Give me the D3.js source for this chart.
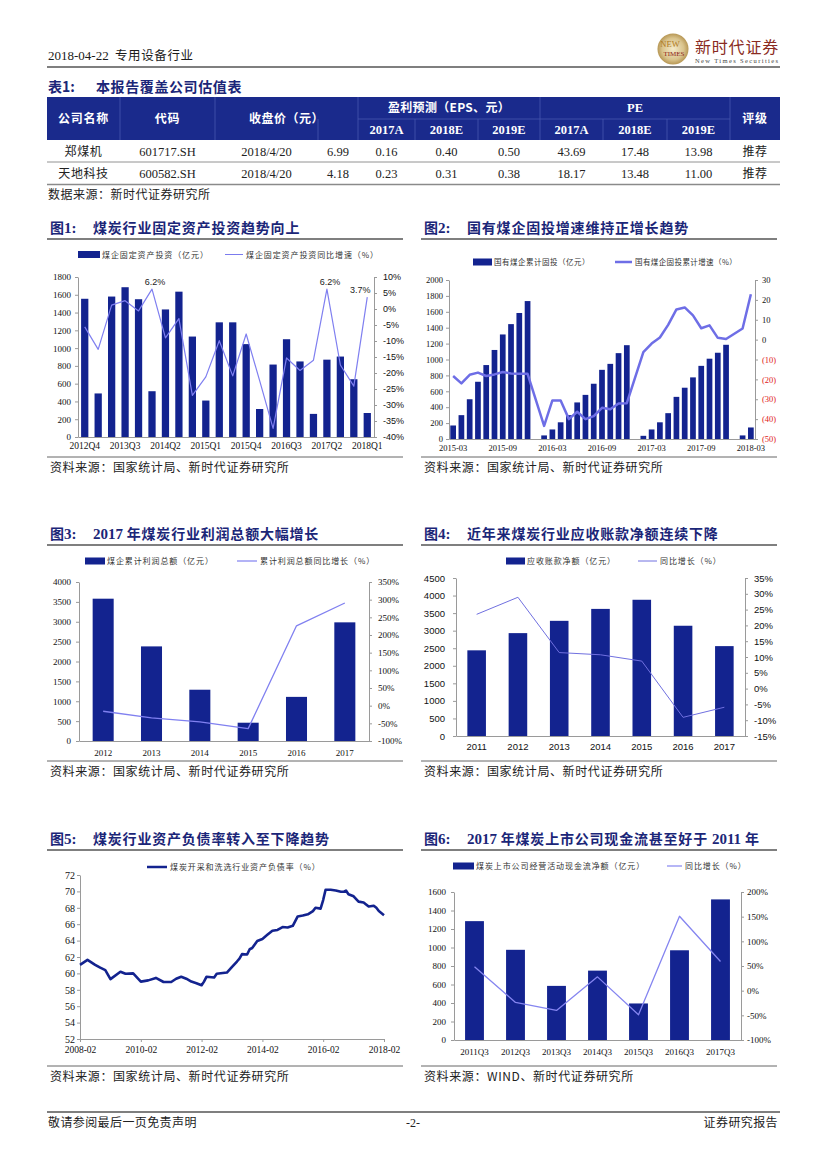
<!DOCTYPE html>
<html><head><meta charset="utf-8">
<script src="https://cdn.jsdelivr.net/npm/d3@7"></script>
<style>body{margin:0;background:#fff}svg{display:block}</style>
</head><body>
<script>
// ---------------- DATA ----------------
// Table 1
const tblCompanies = ["郑煤机", "天地科技"];
const tblCodes = ["601717.SH", "600582.SH"];
const tblDates = ["2018/4/20", "2018/4/20"];
const tblPrices = ["6.99", "4.18"];
const tblEps2017A = ["0.16", "0.23"];
const tblEps2018E = ["0.40", "0.31"];
const tblEps2019E = ["0.50", "0.38"];
const tblPe2017A = ["43.69", "18.17"];
const tblPe2018E = ["17.48", "13.48"];
const tblPe2019E = ["13.98", "11.00"];
const tblRatings = ["推荐", "推荐"];
const tblYearHeads = ["2017A", "2018E", "2019E", "2017A", "2018E", "2019E"];

// Fig 1
const fig1Quarters = ["2012Q4","2013Q1","2013Q2","2013Q3","2013Q4","2014Q1","2014Q2","2014Q3","2014Q4","2015Q1","2015Q2","2015Q3","2015Q4","2016Q1","2016Q2","2016Q3","2016Q4","2017Q1","2017Q2","2017Q3","2017Q4","2018Q1"];
const fig1Invest = [1555,490,1580,1685,1550,515,1435,1635,1130,410,1290,1290,1045,315,815,1100,850,260,870,905,650,270];
const fig1Growth = [-5.6,-12.6,1.2,2.6,-0.6,6.2,-9.0,-3.0,-27.0,-21.2,-9.9,-20.9,-7.8,-22.4,-37.3,-15.3,-19.2,-16.0,6.2,-17.5,-24.1,3.7];
const fig1XTicks = ["2012Q4","2013Q3","2014Q2","2015Q1","2015Q4","2016Q3","2017Q2","2018Q1"];
const fig1LeftTicks = [0,200,400,600,800,1000,1200,1400,1600,1800];
const fig1RightTicks = [-40,-35,-30,-25,-20,-15,-10,-5,0,5,10];
const fig1Labelled = ["2014Q1", "2017Q2", "2018Q1"];

// Fig 2
const fig2Months = ["2015-03","2015-04","2015-05","2015-06","2015-07","2015-08","2015-09","2015-10","2015-11","2015-12",
 "2016-01","2016-02","2016-03","2016-04","2016-05","2016-06","2016-07","2016-08","2016-09","2016-10","2016-11","2016-12",
 "2017-01","2017-02","2017-03","2017-04","2017-05","2017-06","2017-07","2017-08","2017-09","2017-10","2017-11","2017-12",
 "2018-01","2018-02","2018-03"];
const fig2Cum = [170,300,500,720,930,1120,1315,1445,1585,1735,
 null,45,120,210,300,460,555,695,870,945,1080,1180,
 null,40,120,210,325,530,645,775,920,1010,1085,1185,
 null,45,145];
const fig2Growth = [-18.3,-22.0,-17.7,-16.6,-18.3,-17.5,-16.3,-17.0,-17.2,-17.2,
 null,-43.4,-30.6,-30.6,-40.0,-36.3,-40.0,-38.5,-34.3,-35.0,-32.1,-32.0,
 null,-6.3,-2.0,1.1,7.4,15.2,16.2,12.2,5.7,7.2,0.9,0.3,
 null,5.6,22.8];
const fig2XTicks = ["2015-03","2015-09","2016-03","2016-09","2017-03","2017-09","2018-03"];
const fig2LeftTicks = [0,200,400,600,800,1000,1200,1400,1600,1800,2000];
const fig2RightTicks = [-50,-40,-30,-20,-10,0,10,20,30];

// Fig 3
const fig3Years = ["2012","2013","2014","2015","2016","2017"];
const fig3Profit = [3580,2380,1290,460,1110,2985];
const fig3Growth = [-15.8,-34.7,-46.0,-65.0,226.0,290.5];
const fig3LeftTicks = [0,500,1000,1500,2000,2500,3000,3500,4000];
const fig3RightTicks = [-100,-50,0,50,100,150,200,250,300,350];

// Fig 4
const fig4Years = ["2011","2012","2013","2014","2015","2016","2017"];
const fig4Receivable = [2440,2930,3280,3620,3880,3140,2560];
const fig4Growth = [23.5,28.9,11.4,10.7,8.7,-9.1,-5.9];
const fig4LeftTicks = [0,500,1000,1500,2000,2500,3000,3500,4000,4500];
const fig4RightTicks = [-15,-10,-5,0,5,10,15,20,25,30,35];

// Fig 5
const fig5Dates = ["2008-02","2008-05","2008-08","2008-10","2008-12","2009-02","2009-06","2009-08","2009-11",
 "2010-02","2010-05","2010-08","2010-11","2011-02","2011-04","2011-06","2011-08","2011-10","2011-12",
 "2012-02","2012-03","2012-04","2012-07","2012-08","2012-12","2013-02","2013-04","2013-05","2013-06","2013-08","2013-09","2013-10","2013-12",
 "2014-02","2014-04","2014-06","2014-08","2014-10","2014-12","2015-02","2015-04","2015-06","2015-08","2015-10","2015-11",
 "2016-01","2016-02","2016-03","2016-05","2016-07","2016-09","2016-10","2016-11","2016-12",
 "2017-02","2017-04","2017-06","2017-07","2017-08","2017-10","2017-11","2017-12","2018-02"];
const fig5Ratio = [61.05,61.65,61.05,60.7,60.4,59.3,60.2,59.95,60.0,
 59.0,59.15,59.45,58.95,58.95,59.35,59.6,59.35,59.0,58.8,
 58.55,59.0,59.6,59.5,59.95,60.1,60.8,61.45,61.8,62.35,62.3,62.95,63.1,63.95,
 64.2,64.7,65.2,65.3,65.65,65.6,65.8,66.95,67.05,67.2,67.6,68.0,
 67.9,68.95,70.2,70.2,70.1,69.95,69.95,70.1,69.65,
 69.4,68.75,68.65,68.4,68.15,68.25,68.0,67.6,67.1];
const fig5XTicks = ["2008-02","2010-02","2012-02","2014-02","2016-02","2018-02"];
const fig5YTicks = [52,54,56,58,60,62,64,66,68,70,72];

// Fig 6
const fig6Quarters = ["2011Q3","2012Q3","2013Q3","2014Q3","2015Q3","2016Q3","2017Q3"];
const fig6Cash = [1285,975,585,750,395,970,1520];
const fig6Growth = [48.3,-23.9,-40.0,28.0,-48.8,150.8,59.0];
const fig6LeftTicks = [0,200,400,600,800,1000,1200,1400,1600];
const fig6RightTicks = [-100,-50,0,50,100,150,200];

// ---------------- STYLE ----------------
const W = 827, H = 1169;
const SERIF = "'Liberation Serif','DejaVu Serif',serif";
const SANS = "'Liberation Sans','DejaVu Sans',sans-serif";
const CJK = "'Noto Sans CJK SC','Noto Sans',sans-serif";
const NAVY = "#13238F";
const TITLE = "#1B2678";
const AXIS = "#9a9a9a";

const svg = d3.select("body").append("svg").attr("width", W).attr("height", H);
svg.append("rect").attr("width", W).attr("height", H).attr("fill", "#fff");
const defs = svg.append("defs");

function txt(x, y, s, font, size, opts = {}) {
  const t = svg.append("text").attr("x", x).attr("y", y).text(s)
    .style("font-family", font).style("font-size", size + "px")
    .attr("fill", opts.fill || "#1a1a1a");
  if (opts.anchor) t.attr("text-anchor", opts.anchor);
  if (opts.weight) t.style("font-weight", opts.weight);
  if (opts.ls) t.style("letter-spacing", opts.ls + "px");
  return t;
}
function hline(x1, x2, y, color, w) {
  svg.append("line").attr("x1", x1).attr("x2", x2).attr("y1", y).attr("y2", y)
    .attr("stroke", color).attr("stroke-width", w);
}

// ---------------- PAGE HEADER ----------------
txt(48, 60, "2018-04-22", SERIF, 13);
txt(115, 60, "专用设备行业", CJK, 12.5, {ls: 0.6});
hline(47, 780, 67, "#555", 1.4);

const lg = defs.append("radialGradient").attr("id", "logoG");
lg.append("stop").attr("offset", "0%").attr("stop-color", "#F4EBCB");
lg.append("stop").attr("offset", "70%").attr("stop-color", "#D9C38C");
lg.append("stop").attr("offset", "100%").attr("stop-color", "#B79755");
svg.append("circle").attr("cx", 673).attr("cy", 49).attr("r", 15.5).attr("fill", "url(#logoG)");
txt(670, 47, "NEW", SERIF, 8.5, {anchor: "middle", fill: "#B07A1E"});
txt(674, 56, "TIMES", SERIF, 7, {anchor: "middle", fill: "#8E2418"});
txt(695, 53, "新时代证券", CJK, 16, {fill: "#8A2B22", ls: 0.8});
txt(695, 63, "New Times Securities", SERIF, 6.5, {fill: "#444"}).attr("textLength", 83);

// ---------------- TABLE ----------------
txt(48, 92, "表1:", CJK, 14, {weight: 700, fill: TITLE});
txt(96, 92, "本报告覆盖公司估值表", CJK, 14, {weight: 700, fill: TITLE, ls: 0.6});

const colB = [47, 120, 215, 318, 358, 415, 478, 540, 603, 667, 730, 780];
const cx = i => (colB[i] + colB[i + 1]) / 2;
const TH0 = 97, THm = 119, TH1 = 140, R1 = 162, R2 = 184.5;
svg.append("rect").attr("x", 47).attr("y", TH0).attr("width", 733).attr("height", TH1 - TH0).attr("fill", "#1A2A8C");
const sepC = "#4656AE";
[120, 215, 358, 540, 730].forEach(x => svg.append("line").attr("x1", x).attr("x2", x).attr("y1", TH0).attr("y2", TH1).attr("stroke", sepC).attr("stroke-width", 0.8));
[318, 415, 478, 603, 667].forEach(x => svg.append("line").attr("x1", x).attr("x2", x).attr("y1", THm).attr("y2", TH1).attr("stroke", sepC).attr("stroke-width", 0.8));
hline(358, 730, THm, sepC, 0.8);
const hs = {fill: "#fff", anchor: "middle", weight: 700};
txt(cx(0), 123, "公司名称", CJK, 12, {...hs, ls: 0.8});
txt(cx(1), 123, "代码", CJK, 12, {...hs, ls: 0.8});
txt((colB[2] + colB[4]) / 2, 123, "收盘价（元）", CJK, 12, {...hs, ls: 0.5});
txt((colB[4] + colB[7]) / 2, 112, "盈利预测（EPS、元）", CJK, 12, {...hs, ls: 0.3});
txt((colB[7] + colB[10]) / 2, 112, "PE", SERIF, 12.5, hs);
txt(cx(10), 123, "评级", CJK, 12, {...hs, ls: 0.8});
tblYearHeads.forEach((h, k) => txt(cx(4 + k), 134, h, SERIF, 12.5, hs));

const rowCols = [tblCompanies, tblCodes, tblDates, tblPrices, tblEps2017A, tblEps2018E, tblEps2019E, tblPe2017A, tblPe2018E, tblPe2019E, tblRatings];
const rowY = [156, 178];
tblCompanies.forEach((_, r) => {
  rowCols.forEach((col, c) => {
    const isCJK = (c === 0 || c === 10);
    txt(cx(c), rowY[r], col[r], isCJK ? CJK : SERIF, isCJK ? 12 : 12.5, {anchor: "middle", ls: isCJK ? 0.6 : 0, fill: "#222"});
  });
});
hline(47, 780, R1, "#777", 0.8);
hline(47, 780, R2, "#8a8a8a", 1.6);
txt(48, 199, "数据来源：新时代证券研究所", CJK, 12, {ls: 0.5, fill: "#222"});

// ---------------- PANEL HELPERS ----------------
function panelFrame(x0, x1, yTitle, num, parts, ySrc, src) {
  const t = svg.append("text").attr("x", x0 + 3).attr("y", yTitle + 5).attr("fill", TITLE)
    .style("font-size", "14px").style("font-weight", 700);
  t.append("tspan").style("font-family", CJK).text("图");
  t.append("tspan").style("font-family", SERIF).style("font-size", "15px").text(num + ":");
  const t2 = svg.append("text").attr("x", x0 + 46).attr("y", yTitle + 5).attr("fill", TITLE)
    .style("font-size", "14px").style("font-weight", 700);
  parts.forEach(p => {
    const ts = t2.append("tspan").text(p[0]);
    if (p[1] === "s") ts.style("font-family", SERIF).style("font-size", "15px");
    else ts.style("font-family", CJK).style("letter-spacing", "0.8px");
  });
  hline(x0, x1, yTitle + 11, "#555", 1.4);
  hline(x0, x1, ySrc - 11, "#666", 1);
  txt(x0 + 3, ySrc + 4, src, CJK, 12, {ls: 0.6, fill: "#222"});
}

function legendBar(x, y, w, label, size, ls) {
  svg.append("rect").attr("x", x).attr("y", y - 3.5).attr("width", w).attr("height", 7).attr("fill", NAVY);
  txt(x + w + 2, y + 3, label, CJK, size || 8, {ls: ls == null ? 0.9 : ls, fill: "#333"});
}
function legendLine(x, y, w, label, color, lw, size, ls) {
  hline(x, x + w, y, color, lw);
  txt(x + w + 3, y + 3, label, CJK, size || 8, {ls: ls == null ? 0.9 : ls, fill: "#333"});
}

function styleAxis(sel, font, size) {
  sel.attr("font-family", null).attr("font-size", null);
  sel.select(".domain").attr("stroke", AXIS).attr("stroke-width", 1);
  sel.selectAll(".tick line").attr("stroke", AXIS);
  sel.selectAll(".tick text").attr("fill", "#111").style("font-family", font).style("font-size", size + "px");
}

function combo(o) {
  const g = svg.append("g");
  const x = d3.scaleBand().domain(o.cats).range([o.x0, o.x1]).paddingInner(o.pad).paddingOuter(o.pad / 2);
  const yL = d3.scaleLinear().domain(o.lDom).range([o.yB, o.yT]);
  const yR = d3.scaleLinear().domain(o.rDom).range([o.yB, o.yT]);
  const bd = o.cats.map((c, i) => ({c, v: o.bars[i]})).filter(d => d.v != null);
  g.selectAll("rect.bar").data(bd).join("rect").attr("class", "bar")
    .attr("x", d => x(d.c)).attr("width", x.bandwidth())
    .attr("y", d => yL(d.v)).attr("height", d => yL(0) - yL(d.v)).attr("fill", NAVY);

  const aL = g.append("g").attr("transform", `translate(${o.x0},0)`)
    .call(d3.axisLeft(yL).tickValues(o.lTicks).tickSize(o.tick).tickPadding(o.lPad).tickSizeOuter(0).tickFormat(d3.format("d")));
  styleAxis(aL, o.lFont, o.fs);
  const aR = g.append("g").attr("transform", `translate(${o.x1},0)`)
    .call(d3.axisRight(yR).tickValues(o.rTicks).tickSize(o.tick).tickPadding(o.rPad).tickSizeOuter(0).tickFormat(o.rFmt));
  styleAxis(aR, o.rFont, o.fs);
  if (o.rColor) aR.selectAll(".tick text").attr("fill", d => o.rColor(d));
  const aB = g.append("g").attr("transform", `translate(0,${o.yB})`)
    .call(d3.axisBottom(x).tickValues(o.xTicks).tickSize(0).tickPadding(o.xPad).tickSizeOuter(0));
  styleAxis(aB, o.xFont, o.xfs || o.fs);

  const ld = o.cats.map((c, i) => ({c, v: o.line[i]})).filter(d => d.v != null);
  const px = d => x(d.c) + x.bandwidth() / 2;
  g.append("path").datum(ld).attr("fill", "none").attr("stroke", o.lineColor).attr("stroke-width", o.lineW)
    .attr("stroke-linejoin", "round")
    .attr("d", d3.line().x(px).y(d => yR(d.v)));
  if (o.labels) {
    o.labels.forEach(L => {
      const i = o.cats.indexOf(L.c);
      g.append("text").attr("x", px({c: L.c}) + L.dx).attr("y", yR(o.line[i]) - 4.5)
        .attr("text-anchor", "middle").style("font-family", SANS).style("font-size", "9px").attr("fill", "#222")
        .text(d3.format(".1f")(o.line[i]) + "%");
    });
  }
}

// ---------------- FIG 1 ----------------
panelFrame(47, 403, 228, "1", [["煤炭行业固定资产投资趋势向上", "c"]], 468, "资料来源：国家统计局、新时代证券研究所");
legendBar(78, 254.5, 22, "煤企固定资产投资（亿元）");
legendLine(225, 254.5, 18, "煤企固定资产投资同比增速（%）", "#7B7BEE", 1);
combo({
  cats: fig1Quarters, bars: fig1Invest, line: fig1Growth,
  x0: 78, x1: 374, yT: 277, yB: 437, pad: 0.46,
  lDom: [0, 1800], rDom: [-40, 10], lTicks: fig1LeftTicks, rTicks: fig1RightTicks,
  rFmt: d => d + "%", tick: 3, lPad: 4, rPad: 6, xPad: 5.5,
  lFont: SERIF, rFont: SANS, xFont: SERIF, fs: 9, xfs: 9.5,
  xTicks: fig1XTicks, lineColor: "#7F7FF0", lineW: 1.2,
  labels: [{c: fig1Labelled[0], dx: 3}, {c: fig1Labelled[1], dx: 3}, {c: fig1Labelled[2], dx: -7}]
});

// ---------------- FIG 2 ----------------
panelFrame(421, 777, 228, "2", [["国有煤企固投增速维持正增长趋势", "c"]], 468, "资料来源：国家统计局、新时代证券研究所");
legendBar(473, 262, 19, "国有煤企累计固投（亿元）", 7.5, 0.5);
legendLine(615, 262, 17, "国有煤企固投累计增速（%）", "#6E6EE6", 2.5, 7.5, 0.4);
combo({
  cats: fig2Months, bars: fig2Cum, line: fig2Growth,
  x0: 449, x1: 755, yT: 280, yB: 439, pad: 0.31,
  lDom: [0, 2000], rDom: [-50, 30], lTicks: fig2LeftTicks, rTicks: fig2RightTicks,
  rFmt: d => d < 0 ? "(" + (-d) + ")" : String(d), rColor: d => d < 0 ? "#E0201A" : "#111",
  tick: 3, lPad: 3, rPad: 4, xPad: 6,
  lFont: SERIF, rFont: SERIF, xFont: SERIF, fs: 8.5,
  xTicks: fig2XTicks, lineColor: "#6E6EE6", lineW: 2.5
});

// ---------------- FIG 3 ----------------
panelFrame(47, 403, 534, "3", [["2017 ", "s"], ["年煤炭行业利润总额大幅增长", "c"]], 772, "资料来源：国家统计局、新时代证券研究所");
legendBar(85, 561, 20, "煤企累计利润总额（亿元）");
legendLine(237, 561, 20, "累计利润总额同比增长（%）", "#8080F0", 1.2);
combo({
  cats: fig3Years, bars: fig3Profit, line: fig3Growth,
  x0: 79, x1: 369, yT: 582, yB: 741, pad: 0.565,
  lDom: [0, 4000], rDom: [-100, 350], lTicks: fig3LeftTicks, rTicks: fig3RightTicks,
  rFmt: d => d + "%", tick: 3, lPad: 5, rPad: 6, xPad: 8.5,
  lFont: SERIF, rFont: SERIF, xFont: SERIF, fs: 9,
  xTicks: fig3Years, lineColor: "#8080F0", lineW: 1.3
});

// ---------------- FIG 4 ----------------
panelFrame(421, 777, 534, "4", [["近年来煤炭行业应收账款净额连续下降", "c"]], 772, "资料来源：国家统计局、新时代证券研究所");
legendBar(506, 561, 19, "应收账款净额（亿元）");
legendLine(638, 561, 19, "同比增长（%）", "#7070E0", 1);
combo({
  cats: fig4Years, bars: fig4Receivable, line: fig4Growth,
  x0: 456, x1: 745, yT: 578, yB: 736, pad: 0.55,
  lDom: [0, 4500], rDom: [-15, 35], lTicks: fig4LeftTicks, rTicks: fig4RightTicks,
  rFmt: d => d + "%", tick: 3, lPad: 8, rPad: 6, xPad: 7.5,
  lFont: SANS, rFont: SANS, xFont: SANS, fs: 9.5,
  xTicks: fig4Years, lineColor: "#7070E0", lineW: 1
});

// ---------------- FIG 5 ----------------
panelFrame(47, 403, 839, "5", [["煤炭行业资产负债率转入至下降趋势", "c"]], 1077, "资料来源：国家统计局、新时代证券研究所");
legendLine(147, 867, 20, "煤炭开采和洗选行业资产负债率（%）", NAVY, 2.5);
(function () {
  const parse = d3.timeParse("%Y-%m");
  const g = svg.append("g");
  const x = d3.scaleTime().domain([parse(fig5XTicks[0]), parse(fig5XTicks[fig5XTicks.length - 1])]).range([80, 384]);
  const y = d3.scaleLinear().domain([52, 72]).range([1039, 875]);
  const aL = g.append("g").attr("transform", "translate(80,0)")
    .call(d3.axisLeft(y).tickValues(fig5YTicks).tickSize(3).tickPadding(2).tickSizeOuter(0));
  styleAxis(aL, SERIF, 10);
  const aB = g.append("g").attr("transform", "translate(0,1039)")
    .call(d3.axisBottom(x).tickValues(fig5XTicks.map(parse)).tickFormat(d3.timeFormat("%Y-%m")).tickSize(3).tickPadding(4).tickSizeOuter(0));
  styleAxis(aB, SERIF, 9.5);
  const pts = fig5Dates.map((d, i) => ({d: parse(d), v: fig5Ratio[i]}));
  g.append("path").datum(pts).attr("fill", "none").attr("stroke", NAVY).attr("stroke-width", 2.6)
    .attr("stroke-linejoin", "round").attr("d", d3.line().x(d => x(d.d)).y(d => y(d.v)));
})();

// ---------------- FIG 6 ----------------
panelFrame(421, 777, 839, "6", [["2017 ", "s"], ["年煤炭上市公司现金流甚至好于 ", "c"], ["2011 ", "s"], ["年", "c"]], 1077, "资料来源：WIND、新时代证券研究所");
legendBar(453, 866, 21, "煤炭上市公司经营活动现金流净额（亿元）");
legendLine(667, 866, 15, "同比增长（%）", "#8585F0", 1.2);
combo({
  cats: fig6Quarters, bars: fig6Cash, line: fig6Growth,
  x0: 454, x1: 741, yT: 892, yB: 1040, pad: 0.54,
  lDom: [0, 1600], rDom: [-100, 200], lTicks: fig6LeftTicks, rTicks: fig6RightTicks,
  rFmt: d => d + "%", tick: 3, lPad: 5, rPad: 3, xPad: 9,
  lFont: SERIF, rFont: SERIF, xFont: SERIF, fs: 9,
  xTicks: fig6Quarters, lineColor: "#8585F0", lineW: 1.3
});

// ---------------- FOOTER ----------------
hline(47, 780, 1112, "#555", 1.4);
txt(48, 1127, "敬请参阅最后一页免责声明", CJK, 12, {ls: 0.4, fill: "#222"});
txt(413, 1127, "-2-", SERIF, 12, {anchor: "middle", fill: "#222"});
txt(778, 1127, "证券研究报告", CJK, 12, {anchor: "end", ls: 0.4, fill: "#222"});
</script>
</body></html>
